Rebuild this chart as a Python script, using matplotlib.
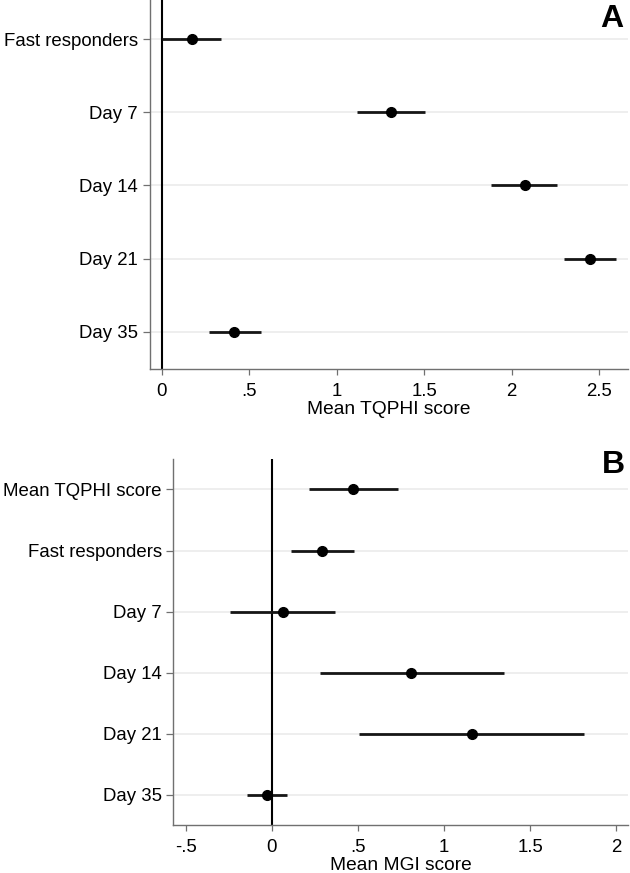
import matplotlib
matplotlib.use('Agg')
import matplotlib.pyplot as plt

plt.rcParams['font.family'] = ['Liberation Sans', 'DejaVu Sans']

# Panel A: mean TQPHI score by group
labels_a = ['Fast responders', 'Day 7', 'Day 14', 'Day 21', 'Day 35']
mean_a = [0.171, 1.309, 2.075, 2.445, 0.415]
lo_a = [0.0, 1.116, 1.884, 2.298, 0.267]
hi_a = [0.336, 1.507, 2.261, 2.599, 0.566]
xticks_a = [0, 0.5, 1, 1.5, 2, 2.5]
xticklabels_a = ['0', '.5', '1', '1.5', '2', '2.5']

# Panel B: mean MGI score by predictor
labels_b = ['Mean TQPHI score', 'Fast responders', 'Day 7', 'Day 14', 'Day 21', 'Day 35']
mean_b = [0.472, 0.294, 0.065, 0.808, 1.163, -0.029]
lo_b = [0.215, 0.114, -0.243, 0.280, 0.509, -0.145]
hi_b = [0.733, 0.477, 0.367, 1.345, 1.813, 0.087]
xticks_b = [-0.5, 0, 0.5, 1, 1.5, 2]
xticklabels_b = ['-.5', '0', '.5', '1', '1.5', '2']

W, H = 630, 873
fig = plt.figure(figsize=(W / 100, H / 100), dpi=100)


def forest(ax, labels, means, lows, highs, xticks, xticklabels, xlim, ylim, xlabel):
    pos = list(range(1, len(labels) + 1))
    for p in pos:
        ax.axhline(p, color='#ebebeb', lw=1.2, zorder=0)
    ax.axvline(0, color='black', lw=1.5, zorder=1)
    ax.hlines(pos, lows, highs, color='#161616', lw=2.0, zorder=2)
    ax.plot(means, pos, 'o', color='black', ms=7, zorder=3)

    ax.set_xlim(*xlim)
    ax.set_ylim(*ylim)
    ax.set_yticks(pos)
    ax.set_yticklabels(labels, fontsize=13.4)
    ax.set_xticks(xticks)
    ax.set_xticklabels(xticklabels, fontsize=13.4)
    ax.set_xlabel(xlabel, fontsize=13.8, labelpad=1)

    for s in ['top', 'right']:
        ax.spines[s].set_visible(False)
    for s in ['left', 'bottom']:
        ax.spines[s].set_color('#707070')
        ax.spines[s].set_linewidth(1.0)
    ax.tick_params(axis='y', length=5, width=0.9, color='#707070', pad=3.4)
    ax.tick_params(axis='x', length=4, width=0.9, color='#707070', pad=6)


ax_a = fig.add_axes([149.5 / W, 1 - 369 / H, (628 - 149.5) / W, 369 / H])
forest(ax_a, labels_a, mean_a, lo_a, hi_a, xticks_a, xticklabels_a,
       (-0.071, 2.665), (5.51, 0.467), 'Mean TQPHI score')

ax_b = fig.add_axes([173.3 / W, 1 - 825 / H, (628 - 173.3) / W, (825 - 459) / H])
forest(ax_b, labels_b, mean_b, lo_b, hi_b, xticks_b, xticklabels_b,
       (-0.571, 2.067), (6.5, 0.5), 'Mean MGI score')

fig.text(612 / W, 1 - 18.7 / H, 'A', fontsize=23, fontweight='bold', ha='center', va='center')
fig.text(613 / W, 1 - 465.3 / H, 'B', fontsize=23, fontweight='bold', ha='center', va='center')

fig.savefig('out.png', dpi=100)
